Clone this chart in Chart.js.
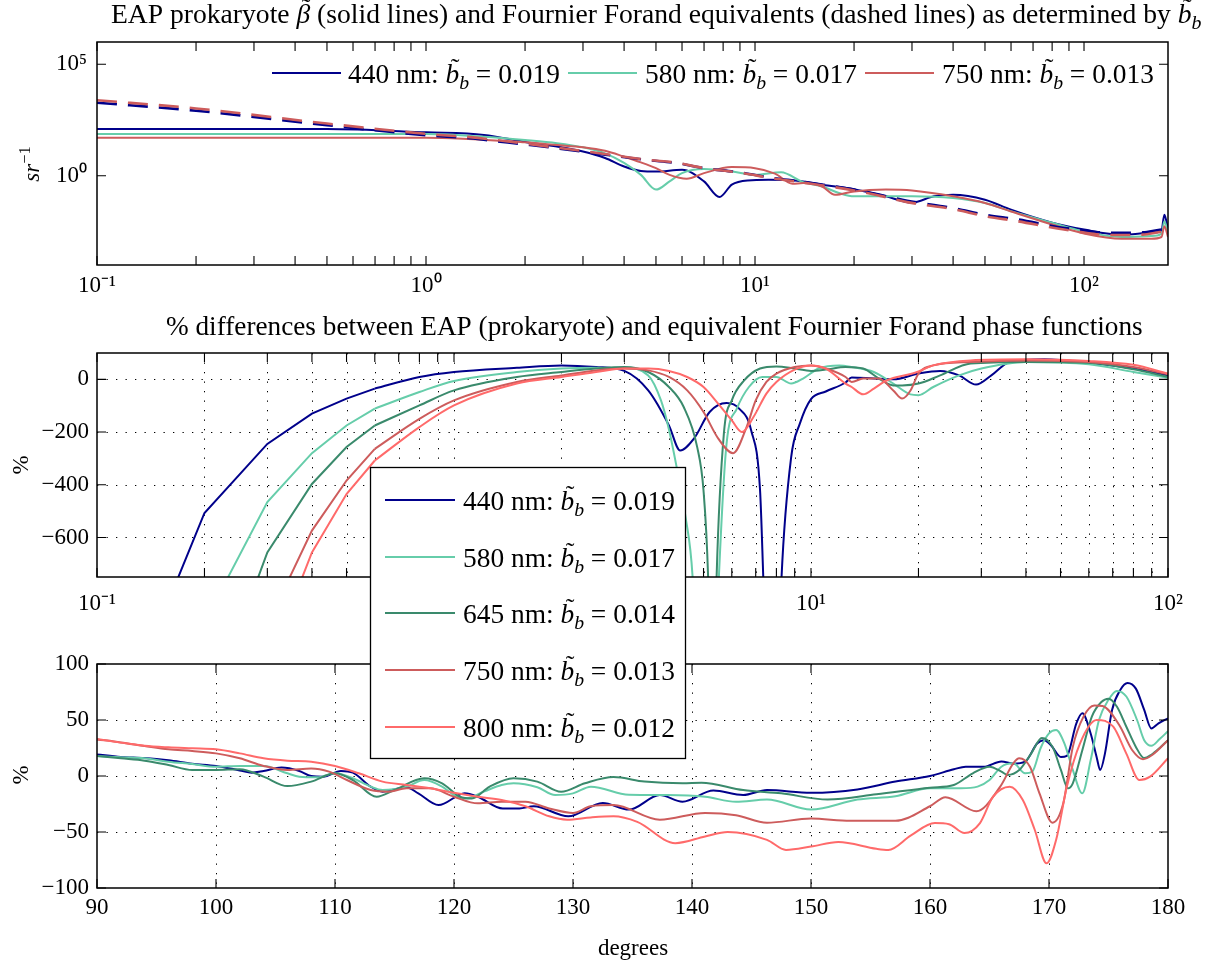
<!DOCTYPE html>
<html><head><meta charset="utf-8">
<script src="https://cdn.jsdelivr.net/npm/chart.js@4.4.1/dist/chart.umd.min.js"></script>
<style>
html,body{margin:0;padding:0;background:#fff;}
#wrap{position:relative;width:1206px;height:966px;overflow:hidden;background:#fff;}
canvas{position:absolute;left:0;top:0;}
</style></head><body>
<div id="wrap">
<canvas id="c3" width="1206" height="966"></canvas>
<canvas id="c2" width="1206" height="966"></canvas>
<canvas id="c1" width="1206" height="966"></canvas>
</div>
<script>
// ---------------- DATA ----------------
const wavelengths = ['440', '580', '645', '750', '800'];
const bbValues = ['0.019', '0.017', '0.014', '0.013', '0.012'];

// Top panel: EAP beta (sr^-1) vs angle (deg)
const topAng440 = [0.1, 0.5, 1, 1.5, 2, 2.5, 3, 3.5, 4, 4.5, 5, 6, 7, 7.8, 8.5, 9.5, 11, 13, 14, 16, 20, 25, 30, 35, 40, 50, 60, 80, 100, 130, 160, 172, 175.5, 180];
const topSr440 = [126, 126, 89, 68, 33, 20.4, 12.3, 6.3, 2.63, 1.66, 1.55, 1.86, 0.56, 0.112, 0.4, 0.62, 0.66, 0.63, 0.56, 0.4, 0.25, 0.12, 0.063, 0.12, 0.14, 0.085, 0.03, 0.0079, 0.0039, 0.0023, 0.0028, 0.0035, 0.018, 0.004];
const topAng580 = [0.1, 1, 1.5, 2, 2.5, 3, 3.5, 4, 4.5, 5, 5.5, 6, 7, 8.5, 10, 12, 14, 16, 18, 20, 25, 30, 40, 50, 60, 80, 100, 130, 160, 172, 175.5, 180];
const topSr580 = [75, 74, 56, 40, 29, 19, 10.2, 3.8, 1.1, 0.24, 0.56, 1.32, 2.0, 1.55, 1.1, 1.45, 0.52, 0.33, 0.17, 0.12, 0.12, 0.12, 0.1, 0.06, 0.026, 0.0079, 0.0032, 0.0018, 0.002, 0.0025, 0.0091, 0.0028];
const topAng750 = [0.1, 1, 2, 2.5, 3, 3.5, 4, 4.5, 5, 5.5, 6.2, 7, 8.5, 10, 11.5, 13, 14, 16, 17.5, 20, 25, 30, 40, 50, 60, 80, 100, 130, 160, 172, 175.5, 180];
const topSr750 = [51, 51, 31.6, 24, 19, 13.2, 7.2, 4.0, 2.2, 1.1, 0.74, 1.32, 2.45, 2.2, 1.26, 0.44, 0.47, 0.33, 0.14, 0.2, 0.24, 0.22, 0.12, 0.06, 0.025, 0.0065, 0.0026, 0.0015, 0.0015, 0.0018, 0.0055, 0.0018];
// Fournier-Forand equivalents (dashed)
const ffAng = [0.1, 0.2, 0.5, 1, 1.36, 1.68, 2.07, 3.15, 3.9, 4.7, 5.8, 7, 8.9, 11.4, 13.7, 20, 24, 29, 40, 50, 63, 83, 95, 109, 126, 151, 170, 180];
const ffSr440 = [1900, 830, 186, 66, 48, 34, 24, 11, 7.2, 5.1, 3.7, 2.2, 1.45, 0.79, 0.56, 0.24, 0.14, 0.076, 0.036, 0.018, 0.011, 0.0051, 0.0039, 0.003, 0.0028, 0.0029, 0.0038, 0.004];
const ffSr750 = [2450, 1050, 220, 76, 54, 38, 26, 11.7, 7.6, 5.2, 3.8, 2.2, 1.41, 0.76, 0.52, 0.22, 0.126, 0.066, 0.032, 0.0155, 0.0091, 0.0043, 0.0032, 0.0024, 0.0022, 0.0023, 0.003, 0.0032];

// Middle panel: % difference, log angle 0.1..100
const midAng440 = [0.1, 0.2, 0.3, 0.4, 0.5, 0.6, 0.8, 1, 1.5, 2, 2.5, 3, 3.5, 4, 4.3, 4.7, 5.2, 5.8, 6.3, 6.8, 7.2, 7.35, 7.8, 8.27, 8.8, 9.3, 10, 11, 12.5, 13, 15, 17, 20, 23, 26, 29, 32, 36, 45, 60, 80, 100];
const midPct440 = [-1507, -507, -245, -130, -73, -35, 9, 28, 44, 53, 47, 32, -42, -175, -270, -225, -124, -90, -112, -194, -422, -750, -1800, -750, -295, -169, -75, -46, -12, 7, 3, 0, 22, 32, 15, -20, 15, 66, 76, 63, 41, 15];
const midAng580 = [0.1, 0.2, 0.3, 0.4, 0.5, 0.6, 0.8, 1, 1.5, 2, 2.5, 3, 3.5, 3.8, 4.0, 4.2, 4.45, 4.66, 5.1, 5.52, 5.8, 6.2, 6.7, 7.3, 8, 8.8, 9.5, 10.5, 12, 13, 15, 17, 19, 20, 22, 26, 30, 40, 60, 80, 100];
const midPct580 = [-2500, -922, -466, -280, -175, -111, -48, -6, 28, 41, 44, 43, 15, -80, -190, -330, -520, -750, -2000, -750, -245, -111, -29, 9, 9, -16, 3, 41, 53, 47, 28, -16, -57, -60, -29, 15, 41, 66, 57, 28, 6];
const midAng645 = [0.1, 0.2, 0.3, 0.4, 0.5, 0.6, 0.8, 1, 1.5, 2, 2.5, 3, 3.5, 4, 4.4, 4.8, 5.0, 5.15, 5.3, 5.44, 5.7, 6.0, 6.5, 7.2, 8, 9, 10, 11, 12.5, 14, 15.5, 17, 18, 20, 23, 28, 40, 60, 80, 100];
const midPct645 = [-3000, -1303, -657, -397, -257, -175, -99, -42, 9, 28, 41, 47, 28, -29, -105, -257, -422, -750, -1500, -750, -207, -80, -4, 41, 49, 41, 32, 37, 47, 41, 3, -23, -23, -16, 15, 60, 66, 63, 38, 9];
const midAng750 = [0.2, 0.3, 0.4, 0.5, 0.6, 0.8, 1, 1.5, 2, 2.5, 3, 3.5, 4, 4.5, 5, 5.5, 6.05, 6.6, 7.0, 7.5, 8, 9, 10, 11, 12.5, 13, 14, 15.5, 17, 18, 19, 20, 22, 28, 40, 60, 80, 100];
const midPct750 = [-2000, -930, -574, -384, -264, -150, -80, -10, 15, 34, 41, 34, 9, -42, -124, -225, -280, -181, -80, -10, 22, 47, 53, 41, 9, -10, 3, 3, -42, -73, -42, 22, 53, 66, 72, 66, 47, 19];
const midAng800 = [0.2, 0.3, 0.4, 0.5, 0.6, 0.8, 1, 1.5, 2, 2.5, 3, 3.5, 4, 4.5, 5, 5.5, 6.0, 6.4, 6.9, 7.5, 8, 9, 10, 11, 12.5, 13, 14, 15, 16, 17, 19, 20, 22, 28, 40, 60, 80, 100];
const midPct800 = [-2500, -1090, -657, -435, -308, -181, -99, -16, 9, 28, 41, 41, 32, 9, -29, -93, -156, -200, -143, -54, -10, 37, 53, 41, -16, -29, -57, -35, -10, 5, 20, 30, 53, 72, 76, 70, 55, 22];

// Bottom panel: % difference, 90..180 deg
const botAng440 = [90, 92, 94, 96, 98, 100, 102, 103, 104, 105.5, 107, 108, 109, 110.5, 111.5, 113, 114, 115, 116, 117, 118.7, 120.9, 122, 124.1, 125.5, 126.7, 129.6, 132.5, 134.7, 137.3, 139.2, 141.8, 144.3, 146.3, 150, 153.9, 157.1, 160, 162, 163, 164.5, 166, 167, 168, 169, 169.6, 170.2, 171, 171.5, 172.3, 172.8, 173.5, 174, 174.3, 174.7, 175.3, 176, 176.6, 177.3, 178, 178.6, 179.2, 180];
const botPct440 = [19.3, 17, 16, 14, 11, 9, 5, 3, 4.5, 7.5, 4.5, 0, -0.6, 4.5, 3, -9.5, -14, -12, -10, -15.5, -26, -15.5, -18.5, -29, -29, -27, -36, -24, -30, -17, -23, -13, -17, -12.5, -15, -12, -5, 0, 6, 8.3, 8.3, 13, 11, 12.8, 29, 32, 27, 17, 18, 47, 56, 38, 17, 5.4, 20, 59, 77, 83, 78, 59, 42.5, 47, 51.5];
const botAng580 = [90, 92, 94, 96, 98, 100, 102, 104, 106, 107, 108.5, 110, 111.5, 113, 114, 116, 117.5, 119, 120, 121, 122.5, 124, 125, 127, 128.5, 130, 131.5, 134.7, 137.9, 141.1, 143.7, 146.3, 150, 153.9, 157.1, 160, 162.6, 164, 165, 166, 167, 168, 168.6, 169.3, 170, 170.6, 171.3, 172, 172.8, 173.5, 174.2, 175, 175.7, 176.5, 177.4, 178, 178.6, 179.3, 180];
const botPct580 = [17.9, 16.7, 15.8, 12.8, 10.7, 8.3, 9, 9, 2.4, -0.6, -1.2, 2.4, -2, -9.5, -12.5, -9.5, -3.6, -9.5, -17, -20, -14, -8, -6.5, -10, -17, -15.5, -9.5, -16.7, -17, -18.5, -23, -21, -30, -21, -18, -11, -11, -9.5, -3.6, 8.3, 11.3, 2.4, 4, 25, 38, 41, 29, 5.4, -15.5, 14, 50, 68, 76, 71, 50, 32, 27, 33, 40];
const botAng645 = [90, 92, 94, 96, 98, 100, 102, 104, 106, 108, 110, 111.5, 113.5, 115, 117.5, 119, 120.5, 121.5, 123, 125, 127, 129, 131, 133.4, 136, 139.2, 140.8, 144.3, 147.5, 151.4, 155.5, 160, 162, 163.6, 165, 166, 166.5, 167.5, 168.5, 169.4, 170.3, 171, 171.6, 172, 172.8, 173.6, 174.4, 175, 175.7, 176.5, 177.3, 178, 178.6, 179.3, 180];
const botPct645 = [17.9, 15.8, 13.7, 9.8, 5.4, 5.4, 6, -0.6, -9, -5, 2.4, -3.6, -18.5, -12.5, -2, -6.5, -18.5, -20, -9.5, -2, -5, -14, -6.5, -1, -5, -6.5, -6, -12.5, -15.5, -21, -16.4, -10.4, -8, 2.4, 8.3, 3.9, 1, 5.4, 20, 34, 26, 5.4, -11, -6.5, 23, 53, 66, 69, 62, 44, 26, 16, 19, 25, 32];
const botAng750 = [90, 92, 94, 96, 98, 100, 102, 104, 106, 108, 109.5, 111, 113, 114.5, 116, 118, 120, 122, 124, 126, 128, 130, 131.5, 133.4, 137.3, 141.1, 143.7, 146.3, 150, 153.3, 157.1, 160, 161.3, 163.9, 165.9, 167, 167.5, 168.4, 169.2, 170.3, 171.2, 172, 172.9, 173.8, 174.5, 175.9, 177, 177.9, 178.7, 180];
const botPct750 = [32.7, 30, 26.8, 23.8, 22.3, 20.2, 15.8, 9, 5.4, 6.8, 3.9, -3.6, -12.5, -14, -11, -11, -18.5, -24.4, -23, -23, -29, -33, -27, -26, -39, -33, -35, -41.7, -38, -40, -40, -27, -19, -31.5, -9.5, 11.3, 15.8, 8.3, -15.5, -41.7, -24.4, 26, 53, 63, 62.5, 45.5, 23, 15, 19, 32];
const botAng800 = [90, 92, 94, 96, 98, 100, 102, 104, 106, 108, 110, 112, 114, 116, 118, 120, 122, 124, 126, 128, 129.5, 131.5, 133.4, 135.4, 138.6, 141.1, 143, 146.3, 147.9, 150, 152.3, 155.5, 156.5, 158.4, 160.4, 161.6, 162.9, 164.2, 165.3, 166.7, 167.8, 168.8, 169.8, 170.6, 171.5, 172.6, 174, 175.4, 176.5, 177.6, 178.5, 180];
const botPct800 = [33, 29.8, 27, 25.6, 24.7, 23.8, 20.2, 15.8, 13.7, 12.8, 9, 2.4, -5, -8, -11, -15, -18.5, -21.4, -27, -36, -39, -37, -36, -41, -60, -54, -50, -57, -66, -63, -59, -65, -66, -53, -42, -43, -51, -42, -18.5, -9.5, -21.4, -48, -78, -57, -9.5, 29, 50, 44, 20, -3.6, -0.6, 15.8];

// Tick values and labels
const topXTicks = [0.1, 1, 10, 100];
const topXLabels = ['10\u207B\u00B9', '10\u2070', '10\u00B9', '10\u00B2'];
const topYTicks = [1, 1e5];
const topYLabels = ['10\u2070', '10\u2075'];
const midXTicks = [0.1, 1, 10, 100];
const midXLabels = ['10\u207B\u00B9', '10\u2070', '10\u00B9', '10\u00B2'];
const midYTicks = [-600, -400, -200, 0];
const midYLabels = ['\u2212600', '\u2212400', '\u2212200', '0'];
const botXTicks = [90, 100, 110, 120, 130, 140, 150, 160, 170, 180];
const botXLabels = ['90', '100', '110', '120', '130', '140', '150', '160', '170', '180'];
const botYTicks = [-100, -50, 0, 50, 100];
const botYLabels = ['\u2212100', '\u221250', '0', '50', '100'];

// ---------------- STYLE ----------------
const COLORS = ['#00008B', '#66CDAA', '#3A8A6C', '#CD5C5C', '#FF6A6A'];
const SERIF = '"Liberation Serif", "Times New Roman", serif';
const TICKFONT = {family: SERIF, size: 23};
const AX = {left: 97, right: 1168};
const YW = 60, XH = 40, W = 1206, H = 966;

function fontFor(st, size) {
  if (st === 'i' || st === 't') return 'italic ' + size + 'px ' + SERIF;
  if (st === 's') return 'italic ' + (size * 0.72) + 'px ' + SERIF;
  if (st === 'p') return (size * 0.72) + 'px ' + SERIF;
  return size + 'px ' + SERIF;
}
function richWidth(ctx, segs, size) {
  let w = 0;
  for (const [t, st] of segs) { ctx.font = fontFor(st, size); w += ctx.measureText(t).width; }
  return w;
}
function drawRich(ctx, segs, x, y, size) {
  ctx.textAlign = 'left'; ctx.textBaseline = 'alphabetic';
  for (const [t, st] of segs) {
    ctx.font = fontFor(st, size);
    let yy = y;
    if (st === 's') yy = y + size * 0.22;
    if (st === 'p') yy = y - size * 0.38;
    ctx.fillText(t, x, yy);
    const w = ctx.measureText(t).width;
    if (st === 't') {
      ctx.font = (size * 0.95) + 'px ' + SERIF;
      const tw = ctx.measureText('\u02DC').width;
      ctx.fillText('\u02DC', x + (w - tw) / 2 + size * 0.1, y - size * 0.26);
    }
    x += w;
  }
  return x;
}
function fitSize(ctx, segs, target) { return 20 * target / richWidth(ctx, segs, 20); }
function legendSegs(i) {
  return [[wavelengths[i] + ' nm: ', 'n'], ['b', 't'], ['b', 's'], [' = ' + bbValues[i], 'n']];
}
function logTicks(lo, hi) {
  const out = [];
  for (let d = 0.1; d <= hi; d *= 10) for (let k = 1; k <= 9; k++) { const v = +(k * d).toPrecision(6); if (v >= lo && v <= hi) out.push(v); }
  return out;
}

// ---------------- PLUGINS ----------------
const framePlugin = {
  id: 'frame',
  beforeDatasetsDraw(chart, args, o) {
    if (!o || (!o.xGrid && !o.yGrid)) return;
    const {ctx, chartArea: a, scales} = chart;
    ctx.save();
    ctx.strokeStyle = '#000'; ctx.lineWidth = 1; ctx.setLineDash([1.3, 8.2]);
    ctx.beginPath();
    (o.xGrid || []).forEach(v => { const p = Math.round(scales.x.getPixelForValue(v)) + 0.5; ctx.moveTo(p, a.top); ctx.lineTo(p, a.bottom); });
    (o.yGrid || []).forEach(v => { const p = Math.round(scales.y.getPixelForValue(v)) + 0.5; ctx.moveTo(a.left, p); ctx.lineTo(a.right, p); });
    ctx.stroke(); ctx.restore();
  },
  afterDatasetsDraw(chart, args, o) {
    if (!o || !o.box) return;
    const {ctx, chartArea: a, scales} = chart;
    ctx.save(); ctx.strokeStyle = '#000'; ctx.setLineDash([]);
    ctx.lineWidth = 1.1; ctx.beginPath();
    const L = o.tickLen || 9;
    (o.xTicks || []).forEach(v => { const p = scales.x.getPixelForValue(v); ctx.moveTo(p, a.bottom); ctx.lineTo(p, a.bottom - L); ctx.moveTo(p, a.top); ctx.lineTo(p, a.top + L); });
    (o.yTicks || []).forEach(v => { const p = scales.y.getPixelForValue(v); ctx.moveTo(a.left, p); ctx.lineTo(a.left + L, p); ctx.moveTo(a.right, p); ctx.lineTo(a.right - L, p); });
    ctx.stroke();
    ctx.lineWidth = 1.5;
    ctx.strokeRect(a.left, a.top, a.right - a.left, a.bottom - a.top);
    ctx.restore();
  }
};
const textPlugin = {
  id: 'texts',
  afterDraw(chart, args, o) {
    if (!o || !o.items) return;
    const ctx = chart.ctx;
    o.items.forEach(it => {
      ctx.save(); ctx.fillStyle = '#000';
      const size = it.fitWidth ? fitSize(ctx, it.fitSegs || it.segs, it.fitWidth) : it.size;
      const w = richWidth(ctx, it.segs, size);
      if (it.rotate) {
        ctx.translate(it.x, it.y); ctx.rotate(-Math.PI / 2);
        drawRich(ctx, it.segs, -w / 2, size * 0.34, size);
      } else {
        drawRich(ctx, it.segs, it.align === 'center' ? it.x - w / 2 : it.x, it.y, size);
      }
      ctx.restore();
    });
  }
};
const legendPlugin = {
  id: 'mlegend',
  afterDraw(chart, args, o) {
    if (!o || !o.entries) return;
    const ctx = chart.ctx; ctx.save();
    if (o.box) {
      const b = o.box;
      ctx.fillStyle = '#fff'; ctx.fillRect(b[0], b[1], b[2], b[3]);
      ctx.strokeStyle = '#000'; ctx.lineWidth = 1.3; ctx.strokeRect(b[0] + 0.5, b[1] + 0.5, b[2], b[3]);
    }
    const size = fitSize(ctx, legendSegs(0), o.textWidth);
    o.entries.forEach(e => {
      ctx.strokeStyle = COLORS[e.i]; ctx.lineWidth = 2.2; ctx.setLineDash([]);
      ctx.beginPath(); ctx.moveTo(e.x1, e.y); ctx.lineTo(e.x2, e.y); ctx.stroke();
      ctx.fillStyle = '#000';
      drawRich(ctx, legendSegs(e.i), e.tx, e.y + 10, size);
    });
    ctx.restore();
  }
};
Chart.register(framePlugin, textPlugin, legendPlugin);

// ---------------- HELPERS ----------------
function pts(xs, ys) { return xs.map((x, i) => ({x: x, y: ys[i]})); }
function line(label, xs, ys, ci, order, extra) {
  return Object.assign({
    label: label, data: pts(xs, ys), borderColor: COLORS[ci], backgroundColor: COLORS[ci],
    borderWidth: 2, pointRadius: 0, fill: false, cubicInterpolationMode: 'monotone', order: order
  }, extra || {});
}
// middle panel: coarse 0.1-degree sampling below 0.6 deg drawn as straight segments, smooth beyond
function splitLine(label, xs, ys, ci, order) {
  const all = pts(xs, ys);
  return [
    Object.assign(line(label, xs, ys, ci, order), {data: all.filter(p => p.x <= 0.6), cubicInterpolationMode: 'default', tension: 0}),
    Object.assign(line(label, xs, ys, ci, order), {data: all.filter(p => p.x >= 0.6)})
  ];
}
function axis(type, min, max, ticks, labels, isX, pad) {
  return {
    type: type, min: min, max: max,
    afterBuildTicks: s => { s.ticks = ticks.map(v => ({value: v})); },
    afterFit: s => { if (isX) s.height = XH; else s.width = YW; },
    grid: {display: false, drawTicks: false}, border: {display: false},
    ticks: {font: TICKFONT, color: '#000', padding: pad, autoSkip: false, maxRotation: 0, minRotation: 0,
      callback: (v, i) => labels[i]}
  };
}
function baseOptions(top, bottom, scales, plugins) {
  return {
    responsive: false, animation: false, devicePixelRatio: 1, events: [],
    layout: {padding: {left: AX.left - YW, right: W - AX.right, top: top, bottom: H - bottom - XH}},
    scales: scales,
    plugins: Object.assign({legend: {display: false}, title: {display: false}, tooltip: {enabled: false}}, plugins)
  };
}

// ---------------- CHART 1 (top) ----------------
const title1Head = [['EAP prokaryote ', 'n'], ['\u03B2', 't'], [' (solid lines) and Fournier Forand equivalents (dashed lines) as determined by', 'n']];
new Chart(document.getElementById('c1'), {
  type: 'line',
  data: {datasets: [
    line('440 nm', topAng440, topSr440, 0, 0),
    line('580 nm', topAng580, topSr580, 1, -1),
    line('750 nm', topAng750, topSr750, 3, -2),
    line('FF 440 nm', ffAng, ffSr440, 0, -3, {borderDash: [20, 11], borderWidth: 2.6}),
    line('FF 750 nm', ffAng, ffSr750, 3, -4, {borderDash: [20, 11], borderWidth: 2.6})
  ]},
  options: baseOptions(42, 265, {
    x: axis('logarithmic', 0.1, 180, topXTicks, topXLabels, true, 7),
    y: axis('logarithmic', 1e-4, 1e6, topYTicks, topYLabels, false, 10)
  }, {
    frame: {box: true, xTicks: logTicks(0.1, 180), yTicks: topYTicks},
    texts: {items: [
      {segs: title1Head.concat([[' ', 'n'], ['b', 't'], ['b', 's']]), fitSegs: title1Head, fitWidth: 1060, x: 111, y: 23},
      {segs: [['sr', 'i'], ['\u22121', 'p']], size: 23, x: 31, y: 164, rotate: true}
    ]},
    mlegend: {textWidth: 212, entries: [
      {i: 0, x1: 272, x2: 341, tx: 348, y: 73},
      {i: 1, x1: 568, x2: 637, tx: 645, y: 73},
      {i: 3, x1: 865, x2: 934, tx: 942, y: 73}
    ]}
  })
});

// ---------------- CHART 2 (middle) ----------------
const title2 = [['% differences between EAP (prokaryote) and equivalent Fournier Forand phase functions', 'n']];
const midMinor = logTicks(0.1, 100);
new Chart(document.getElementById('c2'), {
  type: 'line',
  data: {datasets: [].concat(
    splitLine('440 nm', midAng440, midPct440, 0, 0),
    splitLine('580 nm', midAng580, midPct580, 1, -1),
    splitLine('645 nm', midAng645, midPct645, 2, -2),
    splitLine('750 nm', midAng750, midPct750, 3, -3),
    splitLine('800 nm', midAng800, midPct800, 4, -4)
  )},
  options: baseOptions(353, 577, {
    x: axis('logarithmic', 0.1, 100, midXTicks, midXLabels, true, 13),
    y: axis('linear', -750, 100, midYTicks, midYLabels, false, 8)
  }, {
    frame: {box: true, xTicks: midMinor, yTicks: midYTicks, xGrid: midMinor.filter(v => v > 0.1 && v < 100), yGrid: midYTicks},
    texts: {items: [
      {segs: title2, fitWidth: 977, x: 166, y: 335},
      {segs: [['%', 'n']], size: 23, x: 20, y: 465, rotate: true}
    ]},
    mlegend: {textWidth: 212, box: [370, 467, 315, 291], entries: [
      {i: 0, x1: 385, x2: 455, tx: 463, y: 500},
      {i: 1, x1: 385, x2: 455, tx: 463, y: 557},
      {i: 2, x1: 385, x2: 455, tx: 463, y: 613},
      {i: 3, x1: 385, x2: 455, tx: 463, y: 670},
      {i: 4, x1: 385, x2: 455, tx: 463, y: 727}
    ]}
  })
});

// ---------------- CHART 3 (bottom) ----------------
new Chart(document.getElementById('c3'), {
  type: 'line',
  data: {datasets: [
    line('440 nm', botAng440, botPct440, 0, 0),
    line('580 nm', botAng580, botPct580, 1, -1),
    line('645 nm', botAng645, botPct645, 2, -2),
    line('750 nm', botAng750, botPct750, 3, -3),
    line('800 nm', botAng800, botPct800, 4, -4)
  ]},
  options: baseOptions(664, 888, {
    x: axis('linear', 90, 180, botXTicks, botXLabels, true, 6),
    y: axis('linear', -100, 100, botYTicks, botYLabels, false, 8)
  }, {
    frame: {box: true, xTicks: botXTicks, yTicks: botYTicks, xGrid: botXTicks.slice(1, -1), yGrid: [-50, 0, 50]},
    texts: {items: [
      {segs: [['%', 'n']], size: 23, x: 20, y: 775, rotate: true},
      {segs: [['degrees', 'n']], size: 23, x: 633, y: 955, align: 'center'}
    ]}
  })
});
</script>
</body></html>
